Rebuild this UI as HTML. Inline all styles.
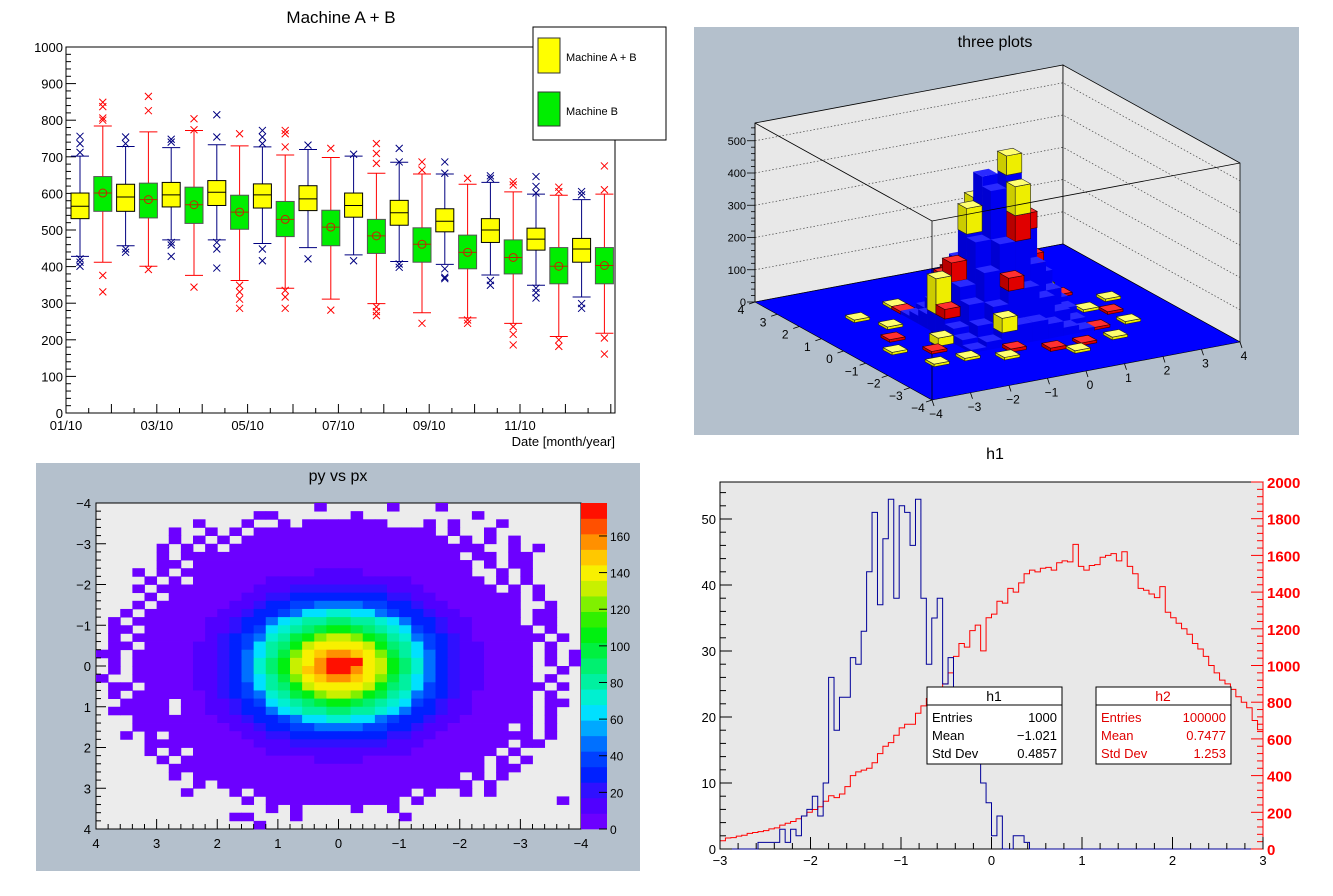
<!DOCTYPE html>
<html><head><meta charset="utf-8">
<style>
body{margin:0;background:#fff;}
svg{display:block;font-family:"Liberation Sans",Arial,sans-serif;}
</style></head>
<body>
<svg id="s" width="1333" height="896" viewBox="0 0 1333 896" xmlns="http://www.w3.org/2000/svg">
  <rect x="0" y="0" width="1333" height="896" fill="#ffffff"/>
  <g id="p1"></g>
  <g id="p2"></g>
  <g id="p3"></g>
  <g id="p4"></g>
</svg>
<script>
// ---------------- candle chart data ----------------
const boxQ1  = [531,551,551,533,563,518,567,502,560,482,553,457,535,436,513,412,495,394,466,380,445,353,412,353];
const boxMed = [565,601,590,583,596,569,603,549,596,529,585,508,567,484,547,461,524,439,500,425,475,401,448,403];
const boxQ3  = [601,646,625,628,630,617,635,595,626,578,621,554,601,529,581,506,558,486,531,473,505,452,477,452];
const boxLo  = [428,412,457,401,473,376,473,362,463,341,452,311,432,299,414,274,406,260,377,245,349,209,317,218];
const boxHi  = [702,784,728,768,725,772,733,730,727,705,720,698,702,655,685,653,653,625,630,604,598,595,583,598];
const outHi = [[756,736,712],[849,837,806,800],[754,736],[865,826],[748,740],[804,774],[815,754],[763],[772,754,736],[772,763,727],[732],[723],[707],[736,709,682],[723,686],[686,664],[686,655],[641],[648,641],[632,623],[646,619,601],[617,605],[605,596],[675,610]];
const outLo = [[421,412,401],[376,331],[448,439],[392],[466,459,428],[344],[466,448,396],[349,331,311,286],[448,416],[335,317,286],[421],[281],[416],[290,277,266],[407,398],[245],[394,371,367],[254,245],[362,349],[236,215,186],[341,329,314],[200,182],[299,286],[205,161]];
const candleYTicks = [0,100,200,300,400,500,600,700,800,900,1000];
const monthLabels = ["01/10","03/10","05/10","07/10","09/10","11/10"];
const monthLabelIdx = [0,2,4,6,8,10];

// ---------------- lego data ----------------
const blueZ = [
 [10,25,45,60,60,45,25,10],
 [25,60,110,150,150,110,60,25],
 [45,110,200,280,280,200,110,45],
 [60,150,280,430,470,290,150,60],
 [60,150,290,460,440,280,150,60],
 [45,110,200,280,280,200,110,45],
 [25,60,110,150,150,110,60,25],
 [10,25,45,60,60,45,25,10]];
const redBins = [[7,10,60],[7,11,50],[8,12,40],[10,8,80],[11,9,50],[6,9,30],[12,10,40],[13,11,25],[9,7,40],[8,5,10],[10,4,10],[4,7,8],[15,12,8],[14,6,8],[6,14,8],[12,4,8],[16,8,8],[3,10,8]];
const yellowBins = [[9,11,100],[10,9,60],[10,8,90],[8,10,80],[6,10,110],[12,11,70],[8,6,45],[5,8,25],[4,12,8],[3,14,8],[6,15,8],[5,5,8],[7,4,8],[11,3,8],[14,4,8],[16,6,8],[17,10,8],[15,9,8],[13,13,8],[2,8,8],[10,13,12],[11,14,8],[15,14,8],[3,5,8]];
const legoZTicks = [0,100,200,300,400,500];
const legoAxisTicks = [-4,-3,-2,-1,0,1,2,3,4];

// ---------------- heatmap data (chars: '.'=empty, '0'=1-9, '1'..'h' = tens) ----------------
const hmRows = [
".......... ........0. ....0...0. ..........",
".......... ...00..... .0........ .0........",
"........0. ..0..0.000 0000...0.0 ...0......",
"......0..0 .0.0000000 00000000.0 ..0.......",
"......0.0. 0.00000000 000000000. 0.0.0.....",
".....0.0.0 .000000000 0000000000 00..0.0...",
".....0.000 0000000000 0000000000 .00.00....",
".....00.00 0000000000 0000000000 0.0.00....",
"...0.0.000 0000000011 1100000000 0..0.0....",
"....0.0.00 0000111111 1111110000 00.0.0....",
"...0.00000 0001112222 2222111000 000.0.0...",
"....0.0000 0011223333 3333221100 00000.0...",
"...0.00000 0112334455 5544332110 00000..0..",
"..0.000000 1123345667 7665433211 00000.00..",
".0.0000001 1233567889 9887653321 10000.00..",
".00.000001 12346789ab ba98764321 100000.0..",
".0.0000001 234578abcd dcba875432 1000000.0.",
".00.000011 234689bdee eedb986432 110000.0..",
"00.0000011 23568acefg gfeca86532 110000.0.0",
".0.0000011 23579bdegh hhedb97532 110000.0.0",
".0.0000011 23579bdfgh hgedb97532 110000..0.",
"0..0000011 23568acefg gfeca86532 110000.0..",
".00.000011 234689bdee eedb986432 1100000.0.",
".0.0000001 234578abcd dcba875432 100000.0..",
"..0000.001 12346789ab ba98764321 100000.00.",
".00000.001 1233567889 9887653321 100000.0..",
"...0000000 1123345667 7665433211 000000.0..",
"...0000000 0112334455 5544332110 0000.0.0..",
"..0.0.0000 0011223333 3333221100 000000.0..",
"....000000 0001112222 2222111000 0000.00...",
"....0.0.00 0000111111 1111110000 000.0.....",
".....0.000 0000000011 1100000000 00.0.0....",
"......0000 0000000000 0000000000 00.00.....",
"......0.00 0000000000 0000000000 .0.0......",
"........0. 0000000000 0000000000 0.0.......",
".......0.. .0.0000000 000000.0.. 0.0.......",
".......... ..0.000000 00000.0... ........0.",
".......... ....0.0... .0..0..... ..........",
".......... .00...0... .....0.... ..........",
".......... ...0...... .......... .........."];
const hmPalette = ["#6c00ff","#5000ff","#3010ff","#0020ff","#0040ff","#0070ff","#00a8ff","#00e0ff","#00f0d0","#00f0a0","#00f070","#00f040","#00f010","#30f000","#80f000","#c8f000","#f8f000","#ffc800","#ff9000","#ff5000","#ff1000"];
const hmZTicks = [0,20,40,60,80,100,120,140,160];
const hmAxisTicks = [-4,-3,-2,-1,0,1,2,3,4];

// ---------------- histogram data ----------------
const h1Counts = [0,0,0,0,0,0,0,1,1,1, 1,3,1,3,2,5,6,8,5,10, 26,18,23,23,29,28,33,42,51,37, 47,53,38,52,51,46,53,38,28,35, 38,25,29,24,20,17,14,13,10,7, 2,5,0,0,2,2,1,0,0,0, 0,0,0,0,0,0,0,0,0,0, 0,0,0,0,0,0,0,0,0,0, 0,0,0,0,0,0,0,0,0,0, 0,0,0,0,0,0,0,0,0,0];
const h2Counts = [45,60,62,70,75,85,90,95,100,110, 115,130,140,150,165,180,200,215,230,260, 290,280,300,340,400,420,430,440,470,520, 560,580,620,660,680,680,740,780,820,860, 880,900,960,1050,1120,1100,1190,1220,1080,1260, 1280,1350,1340,1420,1400,1450,1500,1520,1510,1530, 1535,1520,1560,1570,1565,1660,1540,1520,1545,1550, 1590,1600,1610,1570,1620,1540,1500,1420,1410,1390, 1370,1430,1290,1260,1230,1200,1170,1120,1090,1050, 1000,960,920,900,870,830,800,770,700,650];
const hLeftTicks = [0,10,20,30,40,50];
const hRightTicks = [0,200,400,600,800,1000,1200,1400,1600,1800,2000];
const hXTicks = [-3,-2,-1,0,1,2,3];

const NS='http://www.w3.org/2000/svg';
function mk(parent, tag, attrs, text){
  const e=document.createElementNS(NS,tag);
  for(const k in attrs) e.setAttribute(k,attrs[k]);
  if(text!==undefined) e.textContent=text;
  parent.appendChild(e);
  return e;
}
function fmt(v){ return v<0 ? '\u2212'+Math.abs(v) : String(v); }

// ================= Panel 1: candle =================
(function(){
  const g=document.getElementById('p1');
  const X0=66, X1=615, Y0=413, Y1=47;
  const ys=v=>Y0-(v/1000)*(Y0-Y1);
  const xs=i=>80+i*22.8;
  let el;
  el=mk(g,'text',{x:341,y:23,'font-size':17,'text-anchor':'middle',fill:'#000'},'Machine A + B');
  
  
  el=mk(g,'rect',{x:X0,y:Y1,width:X1-X0,height:Y0-Y1,fill:'#fff',stroke:'#000','stroke-width':1});
  
  
  for(let v=0; v<=1000; v+=20){
    const maj=(v%100===0);
    mk(g,'line',{x1:X0,x2:X0+(maj?10:5),y1:ys(v),y2:ys(v),stroke:'#000','stroke-width':1});
  }
  candleYTicks.forEach(v=>{
    el=mk(g,'text',{x:X0-3,y:ys(v)+5,'font-size':13,'text-anchor':'end',fill:'#000'},String(v));
    
    
  });
  for(let h=0; h<=24; h++){
    const x=X0+h*22.7;
    if(x>X1) break;
    mk(g,'line',{x1:x,x2:x,y1:Y0,y2:Y0-(h%2===0?9:5),stroke:'#000','stroke-width':1});
  }
  monthLabels.forEach((t,i)=>{
    el=mk(g,'text',{x:X0+monthLabelIdx[i]*45.4,y:430,'font-size':13,'text-anchor':'middle',fill:'#000'},t);
    
    
  });
  el=mk(g,'text',{x:X1,y:446,'font-size':13,'text-anchor':'end',fill:'#000'},'Date [month/year]');
  
  
  const bw=18;
  boxQ1.forEach((q1,i)=>{
    const yellow=(i%2===0);
    const wc=yellow?'#000080':'#ff0000';
    const cx=xs(i);
    const bg=mk(g,'g',{});
    
    
    mk(bg,'line',{x1:cx,x2:cx,y1:ys(boxHi[i]),y2:ys(boxQ3[i]),stroke:wc,'stroke-width':1});
    mk(bg,'line',{x1:cx,x2:cx,y1:ys(q1),y2:ys(boxLo[i]),stroke:wc,'stroke-width':1});
    mk(bg,'line',{x1:cx-bw/2,x2:cx+bw/2,y1:ys(boxHi[i]),y2:ys(boxHi[i]),stroke:wc,'stroke-width':1});
    mk(bg,'line',{x1:cx-bw/2,x2:cx+bw/2,y1:ys(boxLo[i]),y2:ys(boxLo[i]),stroke:wc,'stroke-width':1});
    mk(bg,'rect',{x:cx-bw/2,y:ys(boxQ3[i]),width:bw,height:ys(q1)-ys(boxQ3[i]),fill:yellow?'#ffff00':'#00ee00',stroke:yellow?'#000':'#555','stroke-width':1});
    mk(bg,'line',{x1:cx-bw/2,x2:cx+bw/2,y1:ys(boxMed[i]),y2:ys(boxMed[i]),stroke:yellow?'#000':'#aa3300','stroke-width':1});
    if(!yellow) mk(bg,'circle',{cx:cx,cy:ys(boxMed[i]),r:4,fill:'none',stroke:'#cc2200','stroke-width':1});
    outHi[i].concat(outLo[i]).forEach(v=>{
      const y=ys(v);
      mk(bg,'path',{d:`M${cx-3.5},${y-3.5}L${cx+3.5},${y+3.5}M${cx-3.5},${y+3.5}L${cx+3.5},${y-3.5}`,stroke:wc,'stroke-width':1,fill:'none'});
    });
  });
  const lg=mk(g,'g',{});
  
  
  mk(lg,'rect',{x:533,y:27,width:133,height:113,fill:'#fff',stroke:'#000','stroke-width':1});
  mk(lg,'rect',{x:538,y:38,width:22,height:35,fill:'#ffff00',stroke:'#333'});
  el=mk(lg,'text',{x:566,y:61,'font-size':11,fill:'#000'},'Machine A + B');
  
  
  mk(lg,'rect',{x:538,y:92,width:22,height:34,fill:'#00ee00',stroke:'#333'});
  el=mk(lg,'text',{x:566,y:115,'font-size':11,fill:'#000'},'Machine B');
  
  
})();

// ================= Panel 2: lego =================
(function(){
  const g=document.getElementById('p2');
  let el;
  el=mk(g,'rect',{x:694,y:27,width:605,height:408,fill:'#b4c0cc'});
  
  
  el=mk(g,'text',{x:995,y:47,'font-size':16,'text-anchor':'middle',fill:'#000'},'three plots');
  
  
  const ZS=0.3225;
  function P(x,y,z){const u=(x+4)/8,v=(y+4)/8;return [932+u*308-v*177, 400-u*58-v*98-z*ZS];}
  const pts=a=>a.map(p=>p[0].toFixed(1)+','+p[1].toFixed(1)).join(' ');
  const zt=555;
  mk(g,'polygon',{points:pts([P(-4,4,0),P(4,4,0),P(4,4,zt),P(-4,4,zt)]),fill:'#e8e8e8',stroke:'#000','stroke-width':0.8});
  mk(g,'polygon',{points:pts([P(4,4,0),P(4,-4,0),P(4,-4,zt),P(4,4,zt)]),fill:'#e8e8e8',stroke:'#000','stroke-width':0.8});
  for(let z=100; z<=500; z+=100){
    mk(g,'polyline',{points:pts([P(-4,4,z),P(4,4,z),P(4,-4,z)]),fill:'none',stroke:'#444','stroke-width':0.7,'stroke-dasharray':'1.5,2'});
  }
  el=mk(g,'polygon',{points:pts([P(-4,-4,0),P(4,-4,0),P(4,4,0),P(-4,4,0)]),fill:'#0000ff',stroke:'#000','stroke-width':0.6});
  
  
  mk(g,'line',{x1:P(-4,-4,0)[0],y1:P(-4,-4,0)[1],x2:P(-4,-4,zt)[0],y2:P(-4,-4,zt)[1],stroke:'#000','stroke-width':0.8});
  const stacks={};
  function add(ix,iy,col,val){const k=ix+','+iy; if(!stacks[k]) stacks[k]={ix:ix,iy:iy,seg:[]}; stacks[k].seg.push([col,val]);}
  blueZ.forEach((row,r)=>row.forEach((v,c)=>add(6+c,6+r,'b',v)));
  redBins.forEach(b=>add(b[0],b[1],'r',b[2]));
  yellowBins.forEach(b=>add(b[0],b[1],'y',b[2]));
  const order={b:0,r:1,y:2};
  const list=Object.values(stacks).sort((a,b)=>(b.ix+b.iy)-(a.ix+a.iy)||(b.ix-a.ix));
  const cols={b:['#2a2aff','#0000f0','#0000d2','none'],r:['#ff3030','#e00000','#b80000','#300'],y:['#ffff70','#eeee00','#cccc00','#222']};
  list.forEach(s=>{
    s.seg.sort((a,b)=>order[a[0]]-order[b[0]]);
    const x0=-4+s.ix*0.4,x1=x0+0.4,y0=-4+s.iy*0.4,y1=y0+0.4;
    let zb=0;
    s.seg.forEach(sg=>{
      const c=cols[sg[0]], ztop=zb+sg[1];
      const bg=mk(g,'g',{});
      
      
      const sw=c[3]==='none'?0:0.6;
      mk(bg,'polygon',{points:pts([P(x0,y0,zb),P(x1,y0,zb),P(x1,y0,ztop),P(x0,y0,ztop)]),fill:c[1],stroke:c[3],'stroke-width':sw});
      mk(bg,'polygon',{points:pts([P(x0,y0,zb),P(x0,y1,zb),P(x0,y1,ztop),P(x0,y0,ztop)]),fill:c[2],stroke:c[3],'stroke-width':sw});
      mk(bg,'polygon',{points:pts([P(x0,y0,ztop),P(x1,y0,ztop),P(x1,y1,ztop),P(x0,y1,ztop)]),fill:c[0],stroke:c[3],'stroke-width':sw});
      zb=ztop;
    });
  });
  mk(g,'polyline',{points:pts([P(-4,4,zt),P(-4,-4,zt),P(4,-4,zt)]),fill:'none',stroke:'#000','stroke-width':0.8});
  mk(g,'line',{x1:P(-4,4,0)[0],y1:P(-4,4,0)[1],x2:P(-4,4,zt)[0],y2:P(-4,4,zt)[1],stroke:'#000','stroke-width':0.8});
  for(let z=0; z<=540; z+=20){
    const p=P(-4,4,z);
    mk(g,'line',{x1:p[0],x2:p[0]-(z%100===0?8:4),y1:p[1],y2:p[1],stroke:'#000','stroke-width':0.8});
  }
  legoZTicks.forEach(z=>{
    const p=P(-4,4,z);
    el=mk(g,'text',{x:p[0]-9,y:p[1]+4,'font-size':11,'text-anchor':'end',fill:'#000'},String(z));
    
    
  });
  legoAxisTicks.forEach(t=>{
    const px=P(t,-4,0);
    mk(g,'line',{x1:px[0],y1:px[1],x2:px[0]+2,y2:px[1]+6,stroke:'#000','stroke-width':0.8});
    el=mk(g,'text',{x:px[0]+4,y:px[1]+18,'font-size':12,'text-anchor':'middle',fill:'#000'},fmt(t));
    
    
    const py=P(-4,t,0);
    mk(g,'line',{x1:py[0],y1:py[1],x2:py[0]-6,y2:py[1]+2,stroke:'#000','stroke-width':0.8});
    el=mk(g,'text',{x:py[0]-14,y:py[1]+12,'font-size':12,'text-anchor':'middle',fill:'#000'},fmt(t));
    
    
  });
})();

// ================= Panel 3: heatmap =================
(function(){
  const g=document.getElementById('p3');
  let el;
  el=mk(g,'rect',{x:36,y:463,width:604,height:408,fill:'#b4c0cc'});
  
  
  el=mk(g,'text',{x:338,y:481,'font-size':16,'text-anchor':'middle',fill:'#000'},'py vs px');
  
  
  const FX0=96,FX1=581,FY0=503,FY1=829;
  el=mk(g,'rect',{x:FX0,y:FY0,width:FX1-FX0,height:FY1-FY0,fill:'#ececec',stroke:'#000','stroke-width':1});
  
  
  const zMax=178;
  const rows=hmRows.map(r=>r.replace(/ /g,''));
  const n=rows.length, m=40;
  const cw=(FX1-FX0)/m, ch=(FY1-FY0)/n;
  rows.forEach((r,j)=>{
    for(let i=0;i<r.length;i++){
      const c=r[i];
      if(c==='.') continue;
      const v = c==='0' ? 5 : parseInt(c,36)*10;
      const b=Math.min(hmPalette.length-1, Math.floor(v/zMax*hmPalette.length));
      el=mk(g,'rect',{x:(FX0+i*cw).toFixed(2),y:(FY0+j*ch).toFixed(2),width:(cw+0.4).toFixed(2),height:(ch+0.4).toFixed(2),fill:hmPalette[b]});
      
      
    }
  });
  const yv=v=>FY0+(v+4)/8*(FY1-FY0);
  const xv=v=>FX0+(4-v)/8*(FX1-FX0);
  for(let k=0;k<=40;k++){
    const v=-4+k*0.2, maj=(k%5===0);
    mk(g,'line',{x1:FX0,x2:FX0+(maj?10:5),y1:yv(v),y2:yv(v),stroke:'#000','stroke-width':1});
    mk(g,'line',{x1:xv(v),x2:xv(v),y1:FY1,y2:FY1-(maj?10:5),stroke:'#000','stroke-width':1});
  }
  hmAxisTicks.forEach(t=>{
    el=mk(g,'text',{x:FX0-5,y:yv(t)+5,'font-size':13,'text-anchor':'end',fill:'#000'},fmt(t));
    
    
    el=mk(g,'text',{x:xv(t),y:FY1+19,'font-size':13,'text-anchor':'middle',fill:'#000'},fmt(t));
    
    
  });
  const CX0=581,CX1=607;
  const bh=(FY1-FY0)/hmPalette.length;
  hmPalette.forEach((c,k)=>{
    el=mk(g,'rect',{x:CX0,y:(FY1-(k+1)*bh).toFixed(2),width:CX1-CX0,height:(bh+0.3).toFixed(2),fill:c});
    
    
  });
  const zy=v=>FY1-v/zMax*(FY1-FY0);
  hmZTicks.forEach(v=>{
    mk(g,'line',{x1:CX1,x2:CX1-8,y1:zy(v),y2:zy(v),stroke:'#000','stroke-width':1});
    el=mk(g,'text',{x:CX1+3,y:zy(v)+5,'font-size':12,fill:'#000'},String(v));
    
    
  });
})();

// ================= Panel 4: histograms =================
(function(){
  const g=document.getElementById('p4');
  let el;
  const FX0=720,FX1=1263,FY0=482,FY1=849;
  el=mk(g,'text',{x:995,y:459,'font-size':16,'text-anchor':'middle',fill:'#000'},'h1');
  
  
  el=mk(g,'rect',{x:FX0,y:FY0,width:FX1-FX0,height:FY1-FY0,fill:'#e8e8e8',stroke:'#000','stroke-width':1});
  
  
  const xs=v=>FX0+(v+3)/6*(FX1-FX0);
  const yl=v=>FY1-v*6.6;
  const yr=v=>FY1-v/2000*(FY1-FY0);
  function step(arr,yf){
    const w=6/arr.length;
    let d=`M${xs(-3)},${yf(0)}`;
    arr.forEach((v,k)=>{ d+=`L${xs(-3+k*w).toFixed(2)},${yf(v).toFixed(2)}L${xs(-3+(k+1)*w).toFixed(2)},${yf(v).toFixed(2)}`; });
    return d;
  }
  el=mk(g,'path',{d:step(h2Counts,yr),fill:'none',stroke:'#ff0000','stroke-width':1});
  
  
  el=mk(g,'path',{d:step(h1Counts,yl),fill:'none',stroke:'#000099','stroke-width':1});
  
  
  for(let v=0; v<=54; v+=2){
    mk(g,'line',{x1:FX0,x2:FX0+(v%10===0?12:6),y1:yl(v),y2:yl(v),stroke:'#000','stroke-width':1});
  }
  hLeftTicks.forEach(v=>{
    el=mk(g,'text',{x:FX0-4,y:yl(v)+5,'font-size':13,'text-anchor':'end',fill:'#000'},String(v));
    
    
  });
  mk(g,'line',{x1:FX1,x2:FX1,y1:FY0,y2:FY1,stroke:'#ff0000','stroke-width':1});
  for(let v=0; v<=2000; v+=40){
    mk(g,'line',{x1:FX1,x2:FX1-(v%200===0?12:6),y1:yr(v),y2:yr(v),stroke:'#ff0000','stroke-width':1});
  }
  hRightTicks.forEach(v=>{
    el=mk(g,'text',{x:FX1+4,y:yr(v)+6,'font-size':15,'font-weight':'bold',fill:'#ff0000'},String(v));
    
    
  });
  for(let k=0;k<=30;k++){
    const v=-3+k*0.2;
    mk(g,'line',{x1:xs(v),x2:xs(v),y1:FY1,y2:FY1-(k%5===0?12:6),stroke:'#000','stroke-width':1});
  }
  hXTicks.forEach(v=>{
    el=mk(g,'text',{x:xs(v),y:FY1+16,'font-size':13,'text-anchor':'middle',fill:'#000'},fmt(v));
    
    
  });
  function stat(x,title,vals,color,name){
    const sg=mk(g,'g',{});
    
    
    mk(sg,'rect',{x:x,y:687,width:135,height:77,fill:'#fff',stroke:'#000','stroke-width':1});
    mk(sg,'line',{x1:x,x2:x+135,y1:705,y2:705,stroke:'#000','stroke-width':1});
    mk(sg,'text',{x:x+67,y:701,'font-size':14,'text-anchor':'middle',fill:color},title);
    const labels=['Entries','Mean','Std Dev'];
    labels.forEach((l,k)=>{
      mk(sg,'text',{x:x+5,y:722+k*18,'font-size':13,fill:color},l);
      mk(sg,'text',{x:x+130,y:722+k*18,'font-size':13,'text-anchor':'end',fill:color},vals[k]);
    });
  }
  stat(927,'h1',['1000','\u22121.021','0.4857'],'#000','h1-stats-box');
  stat(1096,'h2',['100000','0.7477','1.253'],'#e00000','h2-stats-box');
})();
</script>
</body></html>
